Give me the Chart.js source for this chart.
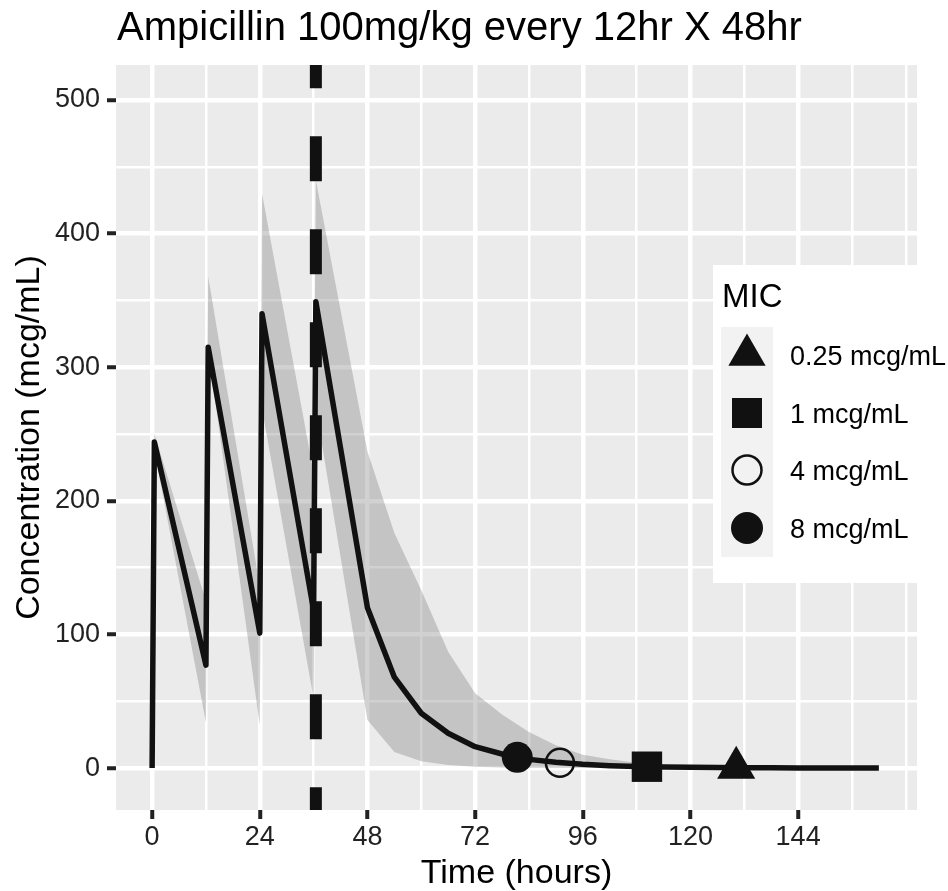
<!DOCTYPE html>
<html>
<head>
<meta charset="utf-8">
<script src="https://cdn.jsdelivr.net/npm/chart.js@4.4.1/dist/chart.umd.min.js"></script>
<style>
  html, body { margin: 0; padding: 0; background: #fff; }
  canvas { display: block; }
</style>
</head>
<body>
<canvas id="pkChart" width="948" height="891"></canvas>
<script>
// median concentration curve (hours, mcg/mL)
const timeHours = [0, 0.5, 12, 12.5, 24, 24.5, 36, 36.5, 48, 54, 60, 66, 72, 78, 84, 90, 96, 102, 108, 114, 120, 126, 132, 138, 144, 150, 156, 162];
const medianConc = [0, 244, 77, 315, 101, 340, 118, 349, 120, 68, 41, 26, 16, 10.5, 6.5, 4.3, 2.8, 1.8, 1.2, 0.8, 0.55, 0.36, 0.24, 0.16, 0.1, 0.07, 0.05, 0.03];

// shaded band
const bandLow  = [0, 238, 34, 313, 32, 269, 52, 270, 36, 12, 5, 2.2, 1, 0.5, 0.3, 0.2, 0.1, 0.05, 0.03, 0.02, 0.01, 0, 0, 0, 0, 0, 0, 0];
const bandHigh = [0, 250, 125, 368, 136, 430, 221, 440, 237, 176, 133, 87, 56, 40, 27, 17, 10, 6.5, 4, 2.5, 1.6, 1, 0.7, 0.4, 0.3, 0.2, 0.1, 0.1];

// time the concentration falls below each MIC
const micLabels = ['0.25 mcg/mL', '1 mcg/mL', '4 mcg/mL', '8 mcg/mL'];
const micValues = [0.25, 1, 4, 8];
const micTimes = [130.2, 110.3, 90.9, 81.4];

const lastDoseTime = 36.5;
const xTicksMajor = [0, 24, 48, 72, 96, 120, 144];
const yTicksMajor = [0, 100, 200, 300, 400, 500];

const FONT = "'Liberation Sans', Arial, Helvetica, sans-serif";
const INK = '#111';

// marker look, same order as micLabels
const micShapes = ['triangle', 'rect', 'circle', 'circle'];
const micRadius = [22, 21.5, 14, 15.5];
const micFill = [INK, INK, 'rgba(0,0,0,0)', INK];
const micBorder = [0, 0, 2.5, 0];

const xy = (xs, ys) => xs.map((x, i) => ({ x: x, y: ys[i] }));

function drawShape(ctx, shape, x, y, r, filled) {
    ctx.beginPath();
    if (shape === 'triangle') {
        ctx.moveTo(x, y - r);
        ctx.lineTo(x + r * Math.sin(2 * Math.PI / 3), y + r / 2);
        ctx.lineTo(x - r * Math.sin(2 * Math.PI / 3), y + r / 2);
        ctx.closePath();
    } else if (shape === 'rect') {
        const s = r * Math.SQRT1_2;
        ctx.rect(x - s, y - s, 2 * s, 2 * s);
    } else {
        ctx.arc(x, y, r, 0, Math.PI * 2);
    }
    if (filled) {
        ctx.fillStyle = INK;
        ctx.fill();
    } else {
        ctx.strokeStyle = INK;
        ctx.lineWidth = 2.5;
        ctx.stroke();
    }
}

// dashed vertical line at last dose
const doseLinePlugin = {
    id: 'doseLine',
    afterDatasetsDraw(chart) {
        const { ctx, chartArea, scales } = chart;
        const x = scales.x.getPixelForValue(lastDoseTime);
        ctx.save();
        ctx.strokeStyle = INK;
        ctx.lineWidth = 12;
        ctx.setLineDash([45, 48]);
        ctx.lineDashOffset = 21.7;
        ctx.beginPath();
        ctx.moveTo(x, chartArea.top);
        ctx.lineTo(x, chartArea.bottom);
        ctx.stroke();
        ctx.restore();
    }
};

// title, axis titles and the MIC legend
const textPlugin = {
    id: 'textBits',
    afterDraw(chart) {
        const { ctx, chartArea } = chart;
        ctx.save();
        ctx.fillStyle = '#000';
        ctx.textBaseline = 'alphabetic';

        ctx.font = '40px ' + FONT;
        ctx.textAlign = 'left';
        ctx.fillText('Ampicillin 100mg/kg every 12hr X 48hr', chartArea.left + 1, 40);

        ctx.font = '34px ' + FONT;
        ctx.textAlign = 'center';
        ctx.fillText('Time (hours)', (chartArea.left + chartArea.right) / 2, 883);

        ctx.save();
        ctx.translate(39, (chartArea.top + chartArea.bottom) / 2);
        ctx.rotate(-Math.PI / 2);
        ctx.fillText('Concentration (mcg/mL)', 0, 0);
        ctx.restore();

        // legend
        ctx.fillStyle = '#fff';
        ctx.fillRect(713, 265, 235, 318);
        ctx.fillStyle = '#F2F2F2';
        ctx.fillRect(721, 327, 52, 230);
        ctx.fillStyle = '#000';
        ctx.textAlign = 'left';
        ctx.font = '33px ' + FONT;
        ctx.fillText('MIC', 722, 307);

        const keyCenters = [355, 413, 470, 528];
        const keyRadius = [21.5, 21.2, 14.5, 16];
        ctx.font = '27px ' + FONT;
        micLabels.forEach((label, i) => {
            drawShape(ctx, micShapes[i], 747, keyCenters[i], keyRadius[i], micBorder[i] === 0);
            ctx.fillStyle = '#000';
            ctx.fillText(label, 790, keyCenters[i] + 10);
        });
        ctx.restore();
    }
};

const isMajorX = v => xTicksMajor.includes(v);
const isMajorY = v => yTicksMajor.includes(v);

const ctx = document.getElementById('pkChart').getContext('2d');
window.pkChart = new Chart(ctx, {
    type: 'line',
    data: {
        datasets: [
            {
                label: 'MIC',
                type: 'scatter',
                data: xy(micTimes, micValues),
                showLine: false,
                pointStyle: micShapes,
                pointRadius: micRadius,
                pointBackgroundColor: micFill,
                pointBorderColor: INK,
                pointBorderWidth: micBorder
            },
            {
                label: 'Median',
                data: xy(timeHours, medianConc),
                borderColor: INK,
                borderWidth: 5.5,
                borderJoinStyle: 'round',
                pointRadius: 0,
                fill: false,
                tension: 0
            },
            {
                label: 'Band high',
                data: xy(timeHours, bandHigh),
                borderWidth: 0,
                borderColor: 'rgba(0,0,0,0)',
                backgroundColor: 'rgba(128,128,128,0.36)',
                pointRadius: 0,
                fill: '+1'
            },
            {
                label: 'Band low',
                data: xy(timeHours, bandLow),
                borderWidth: 0,
                borderColor: 'rgba(0,0,0,0)',
                pointRadius: 0,
                fill: false
            }
        ]
    },
    options: {
        responsive: false,
        animation: false,
        devicePixelRatio: 1,
        events: [],
        layout: { padding: { top: 65, right: 31, left: 0, bottom: 0 } },
        plugins: {
            legend: { display: false },
            tooltip: { enabled: false }
        },
        scales: {
            x: {
                type: 'linear',
                min: -8.05,
                max: 170.5,
                afterFit: s => { s.height = 81; },
                border: { display: false },
                grid: {
                    color: '#fff',
                    lineWidth: c => isMajorX(c.tick.value) ? 4.5 : 2.5,
                    drawTicks: true,
                    tickLength: 9,
                    tickWidth: 4,
                    tickColor: c => isMajorX(c.tick.value) ? '#222' : 'rgba(0,0,0,0)'
                },
                ticks: {
                    stepSize: 12,
                    includeBounds: false,
                    autoSkip: false,
                    maxRotation: 0,
                    padding: 2,
                    color: '#222',
                    font: { family: FONT, size: 27 },
                    callback: v => isMajorX(v) ? String(v) : ''
                }
            },
            y: {
                min: -31.4,
                max: 526.2,
                afterFit: s => { s.width = 116; },
                border: { display: false },
                grid: {
                    color: '#fff',
                    lineWidth: c => isMajorY(c.tick.value) ? 4.5 : 2.5,
                    drawTicks: true,
                    tickLength: 9,
                    tickWidth: 4,
                    tickColor: c => isMajorY(c.tick.value) ? '#222' : 'rgba(0,0,0,0)'
                },
                ticks: {
                    stepSize: 50,
                    includeBounds: false,
                    autoSkip: false,
                    padding: 7,
                    color: '#222',
                    font: { family: FONT, size: 27 },
                    callback: v => isMajorY(v) ? String(v) : ''
                }
            }
        }
    },
    plugins: [
        {
            id: 'panelBg',
            beforeDraw(chart) {
                const a = chart.chartArea;
                chart.ctx.save();
                chart.ctx.fillStyle = '#EBEBEB';
                chart.ctx.fillRect(a.left, a.top, a.right - a.left, a.bottom - a.top);
                chart.ctx.restore();
            }
        },
        doseLinePlugin,
        textPlugin
    ]
});
</script>
</body>
</html>
